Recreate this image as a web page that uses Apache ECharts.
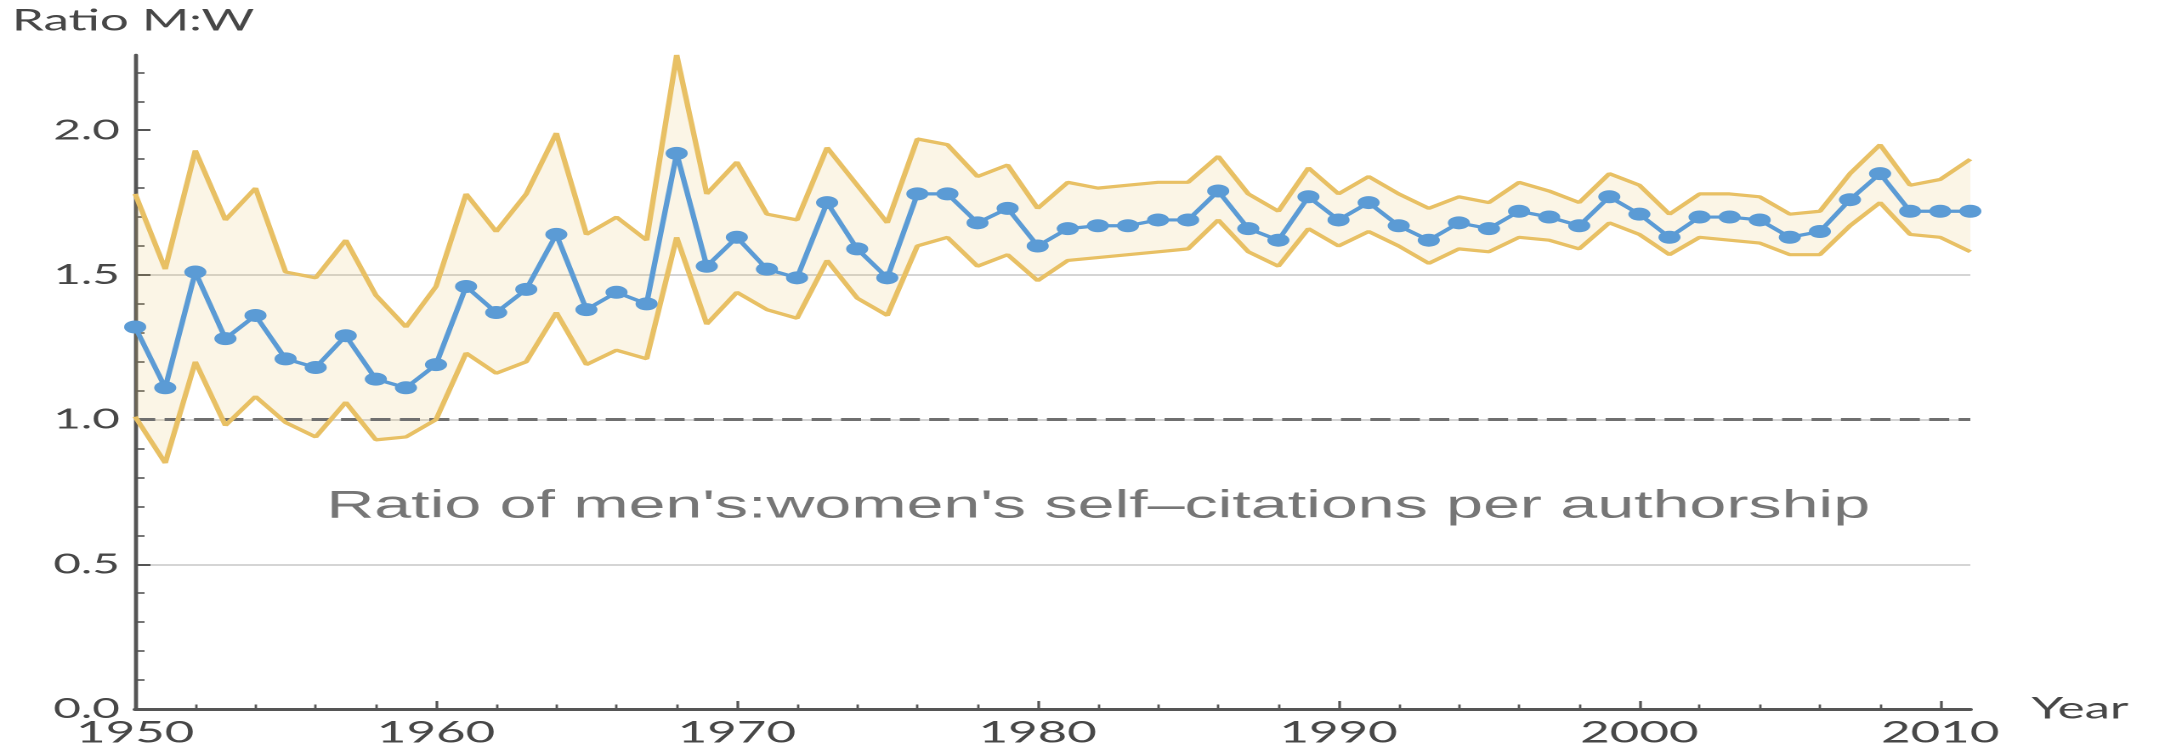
<!DOCTYPE html>
<html><head><meta charset="utf-8">
<script src="https://cdn.jsdelivr.net/npm/echarts@6/dist/echarts.min.js"></script>
<style>
html,body{margin:0;padding:0;background:#fff;overflow:hidden;width:2164px;height:750px}
#c{width:1273px;height:750px;transform:scaleX(1.7);transform-origin:0 0;}
</style>
</head><body><div id="c"></div>
<script>
const years = [1950,1951,1952,1953,1954,1955,1956,1957,1958,1959,
  1960,1961,1962,1963,1964,1965,1966,1967,1968,1969,
  1970,1971,1972,1973,1974,1975,1976,1977,1978,1979,
  1980,1981,1982,1983,1984,1985,1986,1987,1988,1989,
  1990,1991,1992,1993,1994,1995,1996,1997,1998,1999,
  2000,2001,2002,2003,2004,2005,2006,2007,2008,2009,
  2010,2011];
const ratioMean = [1.32,1.11,1.51,1.28,1.36,1.21,1.18,1.29,1.14,1.11,
  1.19,1.46,1.37,1.45,1.64,1.38,1.44,1.40,1.92,1.53,
  1.63,1.52,1.49,1.75,1.59,1.49,1.78,1.78,1.68,1.73,
  1.60,1.66,1.67,1.67,1.69,1.69,1.79,1.66,1.62,1.77,
  1.69,1.75,1.67,1.62,1.68,1.66,1.72,1.70,1.67,1.77,
  1.71,1.63,1.70,1.70,1.69,1.63,1.65,1.76,1.85,1.72,
  1.72,1.72];
const ratioUpper = [1.78,1.52,1.93,1.69,1.80,1.51,1.49,1.62,1.43,1.32,
  1.46,1.78,1.65,1.78,1.99,1.64,1.70,1.62,2.26,1.78,
  1.89,1.71,1.69,1.94,1.81,1.68,1.97,1.95,1.84,1.88,
  1.73,1.82,1.80,1.81,1.82,1.82,1.91,1.78,1.72,1.87,
  1.78,1.84,1.78,1.73,1.77,1.75,1.82,1.79,1.75,1.85,
  1.81,1.71,1.78,1.78,1.77,1.71,1.72,1.85,1.95,1.81,
  1.83,1.90];
const ratioLower = [1.01,0.85,1.20,0.98,1.08,0.99,0.94,1.06,0.93,0.94,
  1.00,1.23,1.16,1.20,1.37,1.19,1.24,1.21,1.63,1.33,
  1.44,1.38,1.35,1.55,1.42,1.36,1.60,1.63,1.53,1.57,
  1.48,1.55,1.56,1.57,1.58,1.59,1.69,1.58,1.53,1.66,
  1.60,1.65,1.60,1.54,1.59,1.58,1.63,1.62,1.59,1.68,
  1.64,1.57,1.63,1.62,1.61,1.57,1.57,1.67,1.75,1.64,
  1.63,1.58];
const xMajorTicks = [1950,1960,1970,1980,1990,2000,2010];
const xMinorTicks = [1952,1954,1956,1958,1962,1964,1966,1968,1972,1974,1976,1978,
  1982,1984,1986,1988,1992,1994,1996,1998,2002,2004,2006,2008];
const yMajorTicks = [0,0.5,1.0,1.5,2.0];
const yMinorTicks = [0.1,0.2,0.3,0.4,0.6,0.7,0.8,0.9,1.1,1.2,1.3,1.4,1.6,1.7,1.8,1.9,2.1,2.2];
const referenceLevel = 1.0;
const yTitle = 'Ratio M:W';
const xTitle = 'Year';
const note = "Ratio of men's:women's self\u2013citations per authorship";

const pair = (arr) => years.map((y, i) => [y, arr[i]]);
const bandData = years.map((y, i) => [y, ratioUpper[i], ratioLower[i]]);

const axisColor = '#555555';
const labelColor = '#474747';
const gold = '#E8C064';
const blue = '#5B9BD5';
const gill = 'Lato, "Open Sans", sans-serif';

const chart = echarts.init(document.getElementById('c'), null, {devicePixelRatio: 2});
chart.setOption({
  animation: false,
  backgroundColor: '#ffffff',
  title: [
    {text: yTitle, left: 7, top: 6, padding: 0,
     textStyle: {fontFamily: gill, fontSize: 30, fontWeight: 'normal', color: labelColor}},
    {text: note, left: 192, top: 487, padding: 0,
     textStyle: {fontFamily: '"Liberation Sans", Arial, sans-serif', fontSize: 39, fontWeight: 'normal', color: '#767676'}}
  ],
  grid: {left: 79.5, right: 114, top: 55, bottom: 41, containLabel: false},
  xAxis: [
    {type: 'value', min: 1950, max: 2011, interval: 10, position: 'bottom',
     axisLine: {show: true, onZero: false, lineStyle: {color: axisColor, width: 3}},
     axisTick: {show: true, inside: true, length: 8, customValues: xMajorTicks, lineStyle: {color: axisColor, width: 1.6}},
     axisLabel: {show: true, customValues: xMajorTicks, margin: 9, fontFamily: gill, fontSize: 30, color: labelColor,
       formatter: v => (v % 10 === 0 ? String(v) : '')},
     splitLine: {show: false},
     name: xTitle, nameLocation: 'end', nameGap: 36,
     nameTextStyle: {fontFamily: gill, fontSize: 30, color: labelColor, verticalAlign: 'middle', align: 'left'}},
    {type: 'value', min: 1950, max: 2011, interval: 2, position: 'bottom',
     axisLine: {show: false},
     axisTick: {show: true, inside: true, length: 4.5, customValues: xMinorTicks, lineStyle: {color: axisColor, width: 1.4}},
     axisLabel: {show: false}, splitLine: {show: false}}
  ],
  yAxis: [
    {type: 'value', min: 0, max: 2.26, interval: 0.5, position: 'left',
     axisLine: {show: true, onZero: false, lineStyle: {color: axisColor, width: 2.4}},
     axisTick: {show: true, inside: true, length: 9, customValues: yMajorTicks, lineStyle: {color: axisColor, width: 2}},
     axisLabel: {show: true, customValues: yMajorTicks, margin: 9, fontFamily: gill, fontSize: 28, color: labelColor,
       formatter: v => (Math.abs(v * 2 - Math.round(v * 2)) < 1e-6 ? v.toFixed(1) : '')},
     splitLine: {show: true, showMinLine: false, showMaxLine: false, lineStyle: {color: '#d5d5d5', width: 2}}},
    {type: 'value', min: 0, max: 2.26, interval: 0.1, position: 'left',
     axisLine: {show: false},
     axisTick: {show: true, inside: true, length: 5.5, customValues: yMinorTicks, lineStyle: {color: axisColor, width: 1.6}},
     axisLabel: {show: false}, splitLine: {show: false}}
  ],
  series: [
    {name: 'band', type: 'custom', data: bandData, silent: true, z: 1,
     encode: {x: 0, y: [1, 2]},
     renderItem: function (params, api) {
       if (params.dataIndex !== 0) return null;
       const pts = [];
       for (let i = 0; i < years.length; i++) pts.push(api.coord([years[i], ratioUpper[i]]));
       for (let i = years.length - 1; i >= 0; i--) pts.push(api.coord([years[i], ratioLower[i]]));
       return {type: 'polygon', shape: {points: pts}, style: {fill: 'rgba(232,190,100,0.16)', stroke: 'none'}};
     }},
    {name: 'upper', type: 'line', data: pair(ratioUpper), symbol: 'none',
     lineStyle: {color: gold, width: 3.2}, z: 3},
    {name: 'lower', type: 'line', data: pair(ratioLower), symbol: 'none',
     lineStyle: {color: gold, width: 3.2}, z: 3},
    {name: 'ratio', type: 'line', data: pair(ratioMean), symbol: 'circle', symbolSize: 13,
     itemStyle: {color: blue}, lineStyle: {color: blue, width: 3.2}, clip: false, z: 5,
     markLine: {silent: true, symbol: 'none', label: {show: false}, z: 2,
       lineStyle: {color: '#6f6f6f', width: 3, type: [11.8, 5.5]},
       data: [{yAxis: referenceLevel}]}}
  ]
});
</script></body></html>
